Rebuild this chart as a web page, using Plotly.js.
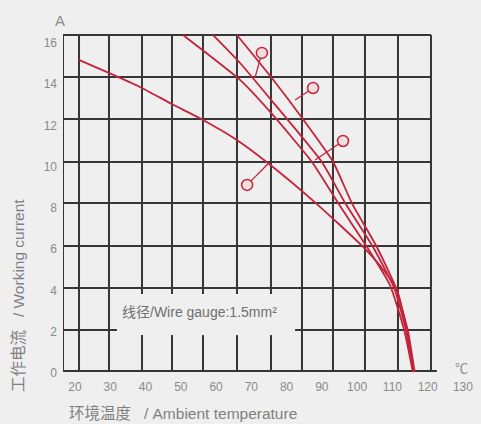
<!DOCTYPE html>
<html>
<head>
<meta charset="utf-8">
<script src="https://cdn.plot.ly/plotly-3.0.1.min.js"></script>
<style>html,body{margin:0;padding:0;background:#efefef;}#chart{width:481px;height:424px;}</style>
</head>
<body>
<div id="chart"></div>
<script>
// ---- data (x: ambient temperature °C, y: working current A) ----
const curve1X = [21.1, 29.6, 38.4, 47.5, 56.3, 65.9, 74.7, 88.6, 101.7, 107.9, 111.3, 114.1, 116.1];
const curve1Y = [15.18, 14.55, 13.87, 13.04, 12.27, 11.30, 10.18, 8.19, 6.11, 4.90, 4.02, 2.04, 0.05];
const curve2X = [50.6, 55.4, 66.8, 75.6, 87.2, 94.6, 102.8, 109.3, 113.4, 115.8];
const curve2Y = [16.39, 15.76, 14.21, 12.61, 10.23, 8.24, 6.11, 4.27, 2.04, 0.05];
const curve3X = [59.1, 66.8, 75.6, 90.0, 96.6, 104.5, 110.5, 113.9, 116.0];
const curve3Y = [16.39, 15.03, 13.24, 10.23, 8.24, 6.11, 4.12, 2.04, 0.05];
const curve4X = [65.9, 75.6, 84.4, 93.2, 98.5, 105.6, 111.0, 114.4, 116.3];
const curve4Y = [16.39, 14.35, 12.36, 10.23, 8.24, 6.11, 4.12, 2.04, 0.05];

// callout circles and the curve points their leaders touch
const calloutX = [73.0, 87.5, 96.0, 68.8];
const calloutY = [15.52, 13.82, 11.25, 9.12];
const leaderEndX = [71.0, 82.4, 88.1, 74.7];
const leaderEndY = [14.30, 13.24, 10.33, 10.13];

// tick labels
const xTicks = [20, 30, 40, 50, 60, 70, 80, 90, 100, 110, 120, 130];
const yTicks = [0, 2, 4, 6, 8, 10, 12, 14, 16];

// drawn grid (as in the printed chart)
const gridVX = [21.14, 29.64, 39.00, 47.50, 56.29, 65.93, 75.57, 84.36, 93.15, 102.22, 111.58];
const gridHY = [14.35, 12.32, 10.23, 8.24, 6.16, 4.12, 2.08];
const borderLeft = 16.60, borderRight = 120.94, borderTop = 16.39, borderBottom = 0.10, axisEnd = 122.6;
const gapVX = [39.00, 47.50, 56.29, 65.93, 75.57];   // vertical lines broken by the label box
const gapTop = 3.83, gapBottom = 1.84;
const label2Left = 31.9, label2Right = 82.4;          // y=2 line broken between these

const RED = '#c5233a';
const GRID = '#363636';
const FONT = 'Liberation Sans, Arial, Noto Sans CJK SC, sans-serif';

// ---- shapes for grid ----
const shapes = [];
function seg(x0, y0, x1, y1) {
  shapes.push({type: 'line', xref: 'x', yref: 'y', x0: x0, y0: y0, x1: x1, y1: y1,
    line: {color: GRID, width: 2}, layer: 'below'});
}
gridVX.forEach(function (gx) {
  if (gapVX.indexOf(gx) >= 0) {
    seg(gx, borderBottom, gx, gapBottom);
    seg(gx, gapTop, gx, borderTop);
  } else {
    seg(gx, borderBottom, gx, borderTop);
  }
});
gridHY.forEach(function (gy) {
  if (gy === 2.08) {
    seg(borderLeft, gy, label2Left, gy);
    seg(label2Right, gy, borderRight, gy);
  } else {
    seg(borderLeft, gy, borderRight, gy);
  }
});
seg(borderLeft, borderBottom, borderLeft, borderTop);
seg(borderRight, borderBottom, borderRight, borderTop);
seg(borderLeft, borderTop, borderRight, borderTop);
seg(borderLeft, borderBottom, axisEnd, borderBottom);

// ---- traces ----
function curve(x, y) {
  return {x: x, y: y, type: 'scatter', mode: 'lines', hoverinfo: 'skip',
    line: {color: RED, width: 1.8, shape: 'spline', smoothing: 0.5}, showlegend: false};
}
const traces = [curve(curve1X, curve1Y), curve(curve2X, curve2Y), curve(curve3X, curve3Y), curve(curve4X, curve4Y)];
for (let i = 0; i < calloutX.length; i++) {
  traces.push({x: [calloutX[i], leaderEndX[i]], y: [calloutY[i], leaderEndY[i]], type: 'scatter', mode: 'lines',
    line: {color: RED, width: 1.3}, showlegend: false, hoverinfo: 'skip'});
}
traces.push({x: calloutX, y: calloutY, type: 'scatter', mode: 'markers', showlegend: false, hoverinfo: 'skip',
  marker: {symbol: 'circle', size: 11, color: '#f2dde0', line: {color: RED, width: 1.5}}});

const layout = {
  width: 481, height: 424,
  margin: {l: 63, r: 11, t: 25, b: 46},
  paper_bgcolor: '#efefef', plot_bgcolor: '#efefef',
  font: {family: FONT, color: '#858585', size: 12},
  showlegend: false,
  xaxis: {range: [16.60, 132.0], tickmode: 'array', tickvals: xTicks, ticktext: xTicks.map(String),
    showgrid: false, zeroline: false, showline: false, ticks: '', tickfont: {size: 12, color: '#8a8a8a'}},
  yaxis: {range: [-0.242, 16.873], tickmode: 'array', tickvals: yTicks, ticktext: yTicks.map(String),
    showgrid: false, zeroline: false, showline: false, ticks: '', ticklabelstandoff: 5,
    tickfont: {size: 12, color: '#8a8a8a'}},
  shapes: shapes,
  annotations: [
    {text: '线径/Wire gauge:1.5mm²', xref: 'x', yref: 'y', x: 55.4, y: 2.96, showarrow: false,
      font: {size: 14, color: '#707070'}, xanchor: 'center', yanchor: 'middle'},
    {text: 'A', xref: 'paper', yref: 'paper', x: -0.0074, y: 1.014, showarrow: false,
      font: {size: 15, color: '#8a8a8a'}, xanchor: 'center', yanchor: 'middle'},
    {text: '℃', xref: 'paper', yref: 'paper', x: 0.980, y: 0.028, showarrow: false,
      font: {size: 13, color: '#8a8a8a'}, xanchor: 'center', yanchor: 'middle'},
    {text: '环境温度   / Ambient temperature', xref: 'paper', yref: 'paper', x: 0.295, y: -0.099, showarrow: false,
      font: {size: 15.5, color: '#808080'}, xanchor: 'center', yanchor: 'middle'},
    {text: '工作电流   / Working current', xref: 'paper', yref: 'paper', x: -0.1106, y: 0.235, showarrow: false,
      textangle: -90, font: {size: 15.5, color: '#808080'}, xanchor: 'center', yanchor: 'middle'}
  ]
};

Plotly.newPlot('chart', traces, layout, {staticPlot: true, displayModeBar: false});
</script>
</body>
</html>
